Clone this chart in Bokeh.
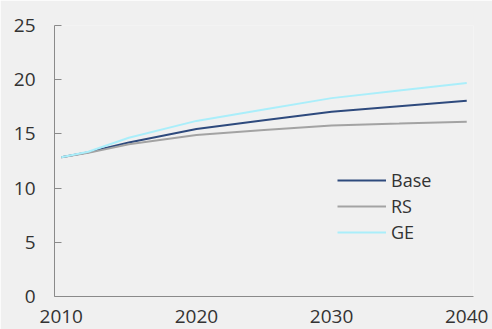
from bokeh.plotting import figure
from bokeh.models import Legend, LegendItem, FixedTicker, Range1d
from bokeh.embed import file_html
from bokeh.resources import INLINE

years = [2010, 2012, 2015, 2020, 2025, 2030, 2035, 2040]
base = [12.85, 13.3, 14.2, 15.45, 16.25, 17.05, 17.55, 18.05]
rs = [12.85, 13.25, 14.05, 14.9, 15.35, 15.78, 15.95, 16.13]
ge = [12.85, 13.35, 14.65, 16.2, 17.25, 18.3, 19.0, 19.7]

x_ticks = [2010, 2020, 2030, 2040]
y_ticks = [0, 5, 10, 15, 20, 25]

BG = "#f0f0f0"
FONT = "Open Sans"

p = figure(width=492, height=329, output_backend="svg", toolbar_location=None,
           x_range=Range1d(2009.5, 2040.5), y_range=Range1d(0, 25),
           min_border_left=54, min_border_right=19, min_border_top=25, min_border_bottom=33)
p.background_fill_color = BG
p.border_fill_color = BG
p.outline_line_color = None
p.xgrid.grid_line_color = None
p.ygrid.grid_line_color = None

r_base = p.line(years, base, line_color="#2e4a7d", line_width=2)
r_rs = p.line(years, rs, line_color="#a3a3a3", line_width=2)
r_ge = p.line(years, ge, line_color="#aaeefa", line_width=2)

for ax in (p.xaxis[0], p.yaxis[0]):
    ax.axis_line_color = "#8a8a8a"
    ax.axis_line_width = 1
    ax.major_tick_line_color = "#8a8a8a"
    ax.minor_tick_line_color = None
    ax.major_label_text_font = FONT
    ax.major_label_text_font_size = "19px"
    ax.major_label_text_color = "#333333"

p.xaxis[0].ticker = FixedTicker(ticks=x_ticks)
p.xaxis[0].major_tick_line_color = None
p.xaxis[0].major_label_standoff = 7
p.yaxis[0].ticker = FixedTicker(ticks=y_ticks)
p.yaxis[0].major_tick_in = 7
p.yaxis[0].major_tick_out = 0
p.yaxis[0].major_label_standoff = 19

legend = Legend(items=[LegendItem(label="Base", renderers=[r_base]),
                       LegendItem(label="RS", renderers=[r_rs]),
                       LegendItem(label="GE", renderers=[r_ge])],
                location=(283, 52), padding=0, margin=0, spacing=2,
                glyph_width=49, glyph_height=20, label_height=20, label_standoff=5,
                border_line_color=None, background_fill_alpha=0,
                label_text_font=FONT, label_text_font_size="18px",
                label_text_color="#333333")
p.add_layout(legend, "center")

open("out.html", "w").write(file_html(p, INLINE))
